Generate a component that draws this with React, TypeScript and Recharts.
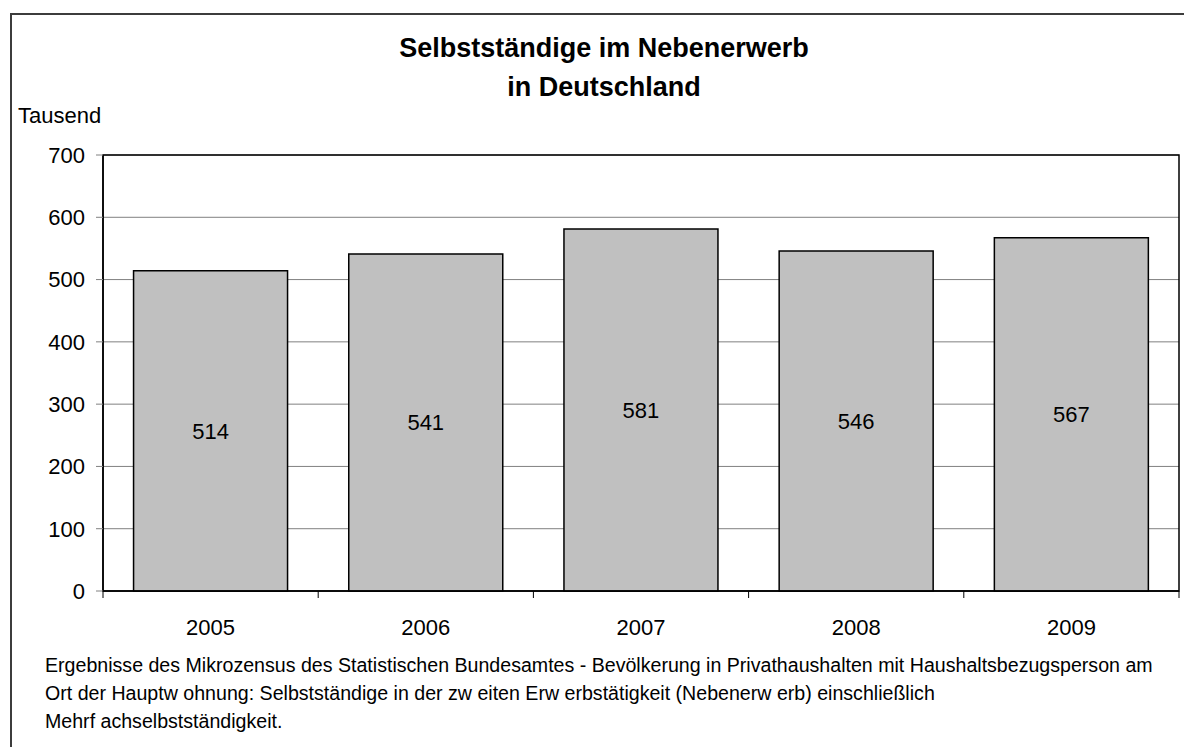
import React from 'react';
import { BarChart, Bar, XAxis, YAxis, CartesianGrid, LabelList, ReferenceArea } from 'recharts';

const YEARS = ['2005', '2006', '2007', '2008', '2009'];
const SELBSTSTAENDIGE = [514, 541, 581, 546, 567];
const Y_TICKS = [0, 100, 200, 300, 400, 500, 600, 700];

const TITLE_LINES = ['Selbstständige im Nebenerwerb', 'in Deutschland'];
const FOOTNOTE_LINES = [
  'Ergebnisse des Mikrozensus des Statistischen Bundesamtes - Bevölkerung in Privathaushalten mit Haushaltsbezugsperson am',
  'Ort der Hauptw ohnung: Selbstständige in der zw eiten Erw erbstätigkeit (Nebenerw erb) einschließlich',
  'Mehrf achselbstständigkeit.',
];

const data = YEARS.map((year, i) => ({ year, value: SELBSTSTAENDIGE[i] }));

const FONT = 'Arial, "Liberation Sans", Helvetica, sans-serif';

// year label centred in the band, tick marks on the band edges
const YearTick = (props: any) => {
  const { x, y, payload, index, visibleTicksCount } = props;
  const half = payload && payload.offset ? payload.offset : 107.6;
  const axisY = y - 7;
  return (
    <g>
      <line x1={x - half} y1={axisY} x2={x - half} y2={axisY + 7} stroke="#000" strokeWidth={1} />
      {index === visibleTicksCount - 1 && (
        <line x1={x + half} y1={axisY} x2={x + half} y2={axisY + 7} stroke="#000" strokeWidth={1} />
      )}
      <text x={x} y={axisY + 44} textAnchor="middle" fontSize={22} fill="#000" fontFamily={FONT}>
        {payload.value}
      </text>
    </g>
  );
};

export default function App() {
  return (
    <div style={{ position: 'absolute', left: 0, top: 0, width: 1184, height: 747, background: '#fff', overflow: 'hidden' }}>
      <div
        style={{
          position: 'absolute',
          left: 10,
          top: 13,
          width: 1200,
          height: 760,
          border: '2px solid #3c3c3c',
          boxSizing: 'border-box',
        }}
      />
      <div style={{ position: 'absolute', left: 0, top: 0 }}>
        <BarChart
          width={1184}
          height={747}
          data={data}
          margin={{ top: 155, right: 5, bottom: 0, left: 0 }}
          barCategoryGap="14.2%"
        >
          <CartesianGrid vertical={false} stroke="#808080" strokeWidth={1} />
          <XAxis
            dataKey="year"
            axisLine={{ stroke: '#000', strokeWidth: 1.5 }}
            tickLine={false}
            tickSize={7}
            tickMargin={0}
            height={156}
            tick={<YearTick />}
            interval={0}
          />
          <YAxis
            domain={[0, 700]}
            ticks={Y_TICKS}
            width={103}
            axisLine={{ stroke: '#000', strokeWidth: 1.5 }}
            tickLine={{ stroke: '#808080', strokeWidth: 1 }}
            tickSize={7}
            tickMargin={11}
            tick={{ fontSize: 22, fill: '#000', fontFamily: FONT }}
          />
          <ReferenceArea x1="2005" x2="2009" y1={0} y2={700} fill="none" stroke="#000" strokeWidth={1.5} />
          <Bar dataKey="value" fill="#C0C0C0" stroke="#000" strokeWidth={1.5} isAnimationActive={false}>
            <LabelList dataKey="value" position="center" fontSize={22} fill="#000" fontFamily={FONT} />
          </Bar>
        </BarChart>
      </div>
      <svg
        width={1184}
        height={747}
        style={{ position: 'absolute', left: 0, top: 0, pointerEvents: 'none' }}
        fontFamily={FONT}
      >
        <text x={604} y={57} textAnchor="middle" fontSize={27} fontWeight="bold" fill="#000">
          {TITLE_LINES[0]}
        </text>
        <text x={604} y={96} textAnchor="middle" fontSize={27} fontWeight="bold" fill="#000">
          {TITLE_LINES[1]}
        </text>
        <text x={18} y={123} fontSize={22} fill="#000">
          Tausend
        </text>
        {FOOTNOTE_LINES.map((line, i) => (
          <text key={i} x={45} y={672 + i * 28} fontSize={19.6} fill="#000">
            {line}
          </text>
        ))}
      </svg>
    </div>
  );
}
